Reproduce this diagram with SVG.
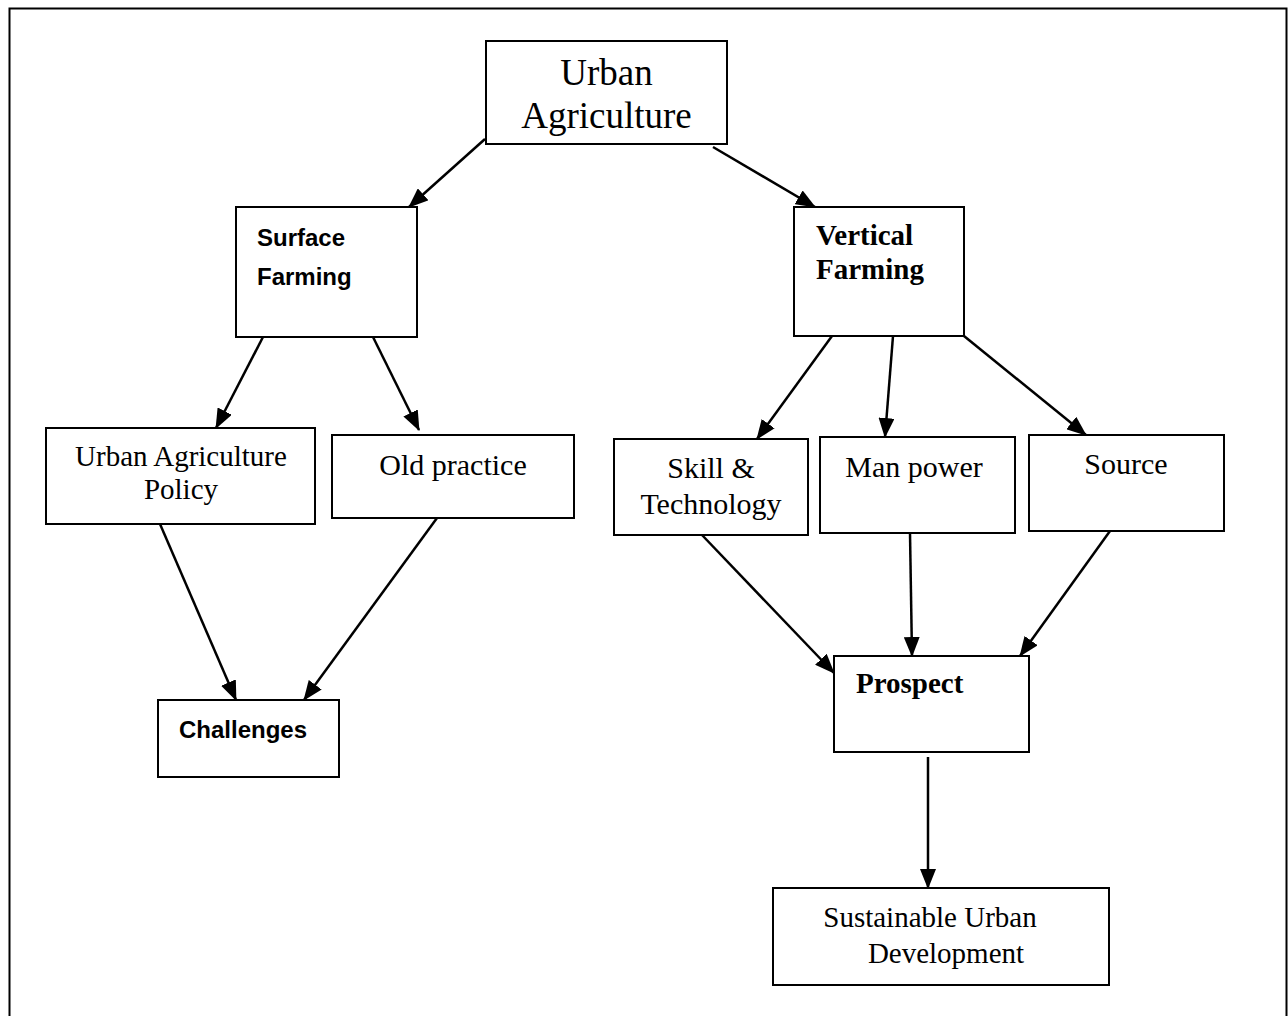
<svg xmlns="http://www.w3.org/2000/svg" width="1288" height="1016" viewBox="0 0 1288 1016">
<defs>
<marker id="arr" markerUnits="userSpaceOnUse" markerWidth="20" markerHeight="16" viewBox="0 0 20 16" refX="19" refY="8" orient="auto">
<path d="M0,0 L20,8 L0,16 z" fill="#000"/>
</marker>
<style>
.box{fill:#fff;stroke:#000;stroke-width:2}
.serif{font-family:"Liberation Serif","Times New Roman",serif;fill:#000}
.sans{font-family:"Liberation Sans",Arial,sans-serif;font-weight:bold;fill:#000}
.bold{font-weight:bold}
.edge{stroke:#000;stroke-width:2.5;fill:none;marker-end:url(#arr)}
</style>
</defs>
<rect x="0" y="0" width="1288" height="1016" fill="#fff"/>
<path d="M9.5,1016 L9.5,8.5 L1286.5,8.5 L1286.5,1016" fill="none" stroke="#000" stroke-width="2"/>
<g id="connectors">
<line class="edge" x1="485" y1="139" x2="409" y2="207"/>
<line class="edge" x1="713" y1="147" x2="815" y2="207"/>
<line class="edge" x1="263" y1="337" x2="216" y2="428"/>
<line class="edge" x1="373" y1="337" x2="419" y2="430"/>
<line class="edge" x1="832" y1="336" x2="757" y2="439"/>
<line class="edge" x1="893" y1="336" x2="885" y2="437"/>
<line class="edge" x1="964" y1="336" x2="1086" y2="435"/>
<line class="edge" x1="160" y1="524" x2="236" y2="700"/>
<line class="edge" x1="437" y1="518" x2="304" y2="700"/>
<line class="edge" x1="702" y1="535" x2="834" y2="673"/>
<line class="edge" x1="910" y1="533" x2="912" y2="656"/>
<line class="edge" x1="1110" y1="531" x2="1020" y2="656"/>
<line class="edge" x1="928" y1="757" x2="928" y2="888"/>
</g>
<g id="urban-agriculture">
<rect class="box" x="486" y="41" width="241" height="103"/>
<text class="serif" x="606.5" y="85" font-size="37" text-anchor="middle">Urban</text>
<text class="serif" x="606.5" y="128" font-size="37" text-anchor="middle">Agriculture</text>
</g>
<g id="surface-farming">
<rect class="box" x="236" y="207" width="181" height="130"/>
<text class="sans" x="257" y="246" font-size="24">Surface</text>
<text class="sans" x="257" y="285" font-size="24">Farming</text>
</g>
<g id="vertical-farming">
<rect class="box" x="794" y="207" width="170" height="129"/>
<text class="serif bold" x="816" y="245" font-size="29">Vertical</text>
<text class="serif bold" x="816" y="279" font-size="29">Farming</text>
</g>
<g id="ua-policy">
<rect class="box" x="46" y="428" width="269" height="96"/>
<text class="serif" x="181" y="466" font-size="29" text-anchor="middle">Urban Agriculture</text>
<text class="serif" x="181" y="499" font-size="29" text-anchor="middle">Policy</text>
</g>
<g id="old-practice">
<rect class="box" x="332" y="435" width="242" height="83"/>
<text class="serif" x="453" y="475" font-size="30" text-anchor="middle">Old practice</text>
</g>
<g id="skill-technology">
<rect class="box" x="614" y="439" width="194" height="96"/>
<text class="serif" x="711" y="478" font-size="30" text-anchor="middle">Skill &amp;</text>
<text class="serif" x="711" y="514" font-size="30" text-anchor="middle">Technology</text>
</g>
<g id="man-power">
<rect class="box" x="820" y="437" width="195" height="96"/>
<text class="serif" x="914" y="477" font-size="30" text-anchor="middle">Man power</text>
</g>
<g id="source">
<rect class="box" x="1029" y="435" width="195" height="96"/>
<text class="serif" x="1126" y="474" font-size="30" text-anchor="middle">Source</text>
</g>
<g id="challenges">
<rect class="box" x="158" y="700" width="181" height="77"/>
<text class="sans" x="179" y="738" font-size="24">Challenges</text>
</g>
<g id="prospect">
<rect class="box" x="834" y="656" width="195" height="96"/>
<text class="serif bold" x="856" y="693" font-size="29">Prospect</text>
</g>
<g id="sustainable-urban-development">
<rect class="box" x="773" y="888" width="336" height="97"/>
<text class="serif" x="930" y="927" font-size="29" text-anchor="middle">Sustainable Urban</text>
<text class="serif" x="946" y="963" font-size="29" text-anchor="middle">Development</text>
</g>
</svg>
